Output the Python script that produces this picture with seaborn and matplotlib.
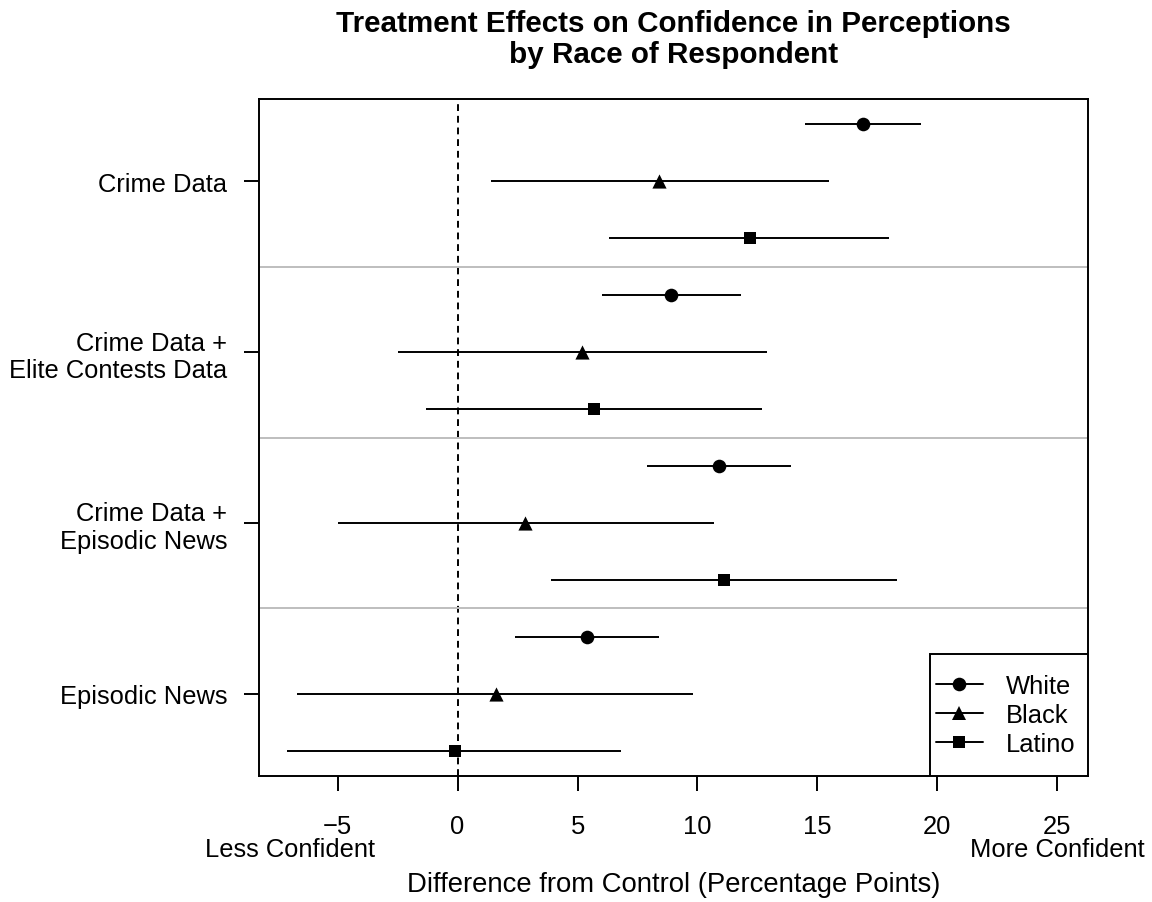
import numpy as np
import pandas as pd
import matplotlib
matplotlib.use("Agg")
import matplotlib.pyplot as plt
from matplotlib.lines import Line2D
from matplotlib.patches import Rectangle
from matplotlib.transforms import blended_transform_factory
import seaborn as sns

# Treatments (top to bottom) and respondent groups
treatments = ["Crime Data", "Crime Data +\nElite Contests Data",
              "Crime Data +\nEpisodic News", "Episodic News"]
races = ["White", "Black", "Latino"]

# Point estimates and 95% intervals, rows = treatments, cols = races
estimate = [[16.9, 8.4, 12.2],
            [8.9, 5.2, 5.7],
            [10.9, 2.8, 11.1],
            [5.4, 1.6, -0.1]]
lower = [[14.5, 1.4, 6.3],
         [6.0, -2.5, -1.3],
         [7.9, -5.0, 3.9],
         [2.4, -6.7, -7.1]]
upper = [[19.3, 15.5, 18.0],
         [11.8, 12.9, 12.7],
         [13.9, 10.7, 18.3],
         [8.4, 9.8, 6.8]]

x_ticks = [-5, 0, 5, 10, 15, 20, 25]
x_range = [-7, 25]

sns.set_theme(style="white", rc={
    "text.color": "black", "axes.labelcolor": "black",
    "xtick.color": "black", "ytick.color": "black",
    "axes.edgecolor": "black",
})
plt.rcParams["font.family"] = ["Liberation Sans", "DejaVu Sans"]
plt.rcParams["axes.unicode_minus"] = True

W, H = 1152, 903
FS = 18.4
n_t, n_r = len(treatments), len(races)
rows = []
for g, t in enumerate(treatments):
    for r, race in enumerate(races):
        rows.append({"treatment": t, "race": race,
                     "est": estimate[g][r], "lo": lower[g][r], "hi": upper[g][r],
                     "pos": n_t * n_r - (g * n_r + r)})
df = pd.DataFrame(rows)

fig = plt.figure(figsize=(W / 100, H / 100), dpi=100)
ax = fig.add_axes([259 / W, 1 - 777 / H, 829 / W, 677 / H])

LW = 1.4
# zero reference line
ax.axvline(0, color="black", lw=LW, ls=(0, (3.5, 2.5)), zorder=1)

# separators between treatment blocks
for g in range(1, n_t):
    ax.axhline(n_t * n_r - g * n_r + 0.5, color="#BEBEBE", lw=LW, zorder=1)

# confidence intervals
ax.hlines(df["pos"], df["lo"], df["hi"], color="black", lw=LW, zorder=2)

markers = {"White": "o", "Black": "^", "Latino": "s"}
msize = {"White": 9.8, "Black": 10.2, "Latino": 8.4}
for race in races:
    sub = df[df["race"] == race]
    sns.scatterplot(data=sub, x="est", y="pos", marker=markers[race],
                    s=msize[race] ** 2, color="black", edgecolor="black",
                    linewidth=0, ax=ax, zorder=3, legend=False)

span = x_range[1] - x_range[0]
ax.set_xlim(x_range[0] - 0.04 * span, x_range[1] + 0.04 * span)
ax.set_ylim(1 - 0.04 * (n_t * n_r - 1), n_t * n_r + 0.04 * (n_t * n_r - 1))
ax.set_xticks(x_ticks)
ax.set_xticklabels([str(v).replace("-", "\u2212") for v in x_ticks], fontsize=FS)
group_centres = [n_t * n_r - (g * n_r + 1) for g in range(n_t)]
ax.set_yticks(group_centres)
ax.set_yticklabels(treatments, fontsize=FS, linespacing=1.2)
ax.tick_params(axis="both", direction="out", length=10.8, width=LW,
               bottom=True, left=True)
ax.tick_params(axis="x", pad=16.5)
ax.tick_params(axis="y", pad=12)
for s in ax.spines.values():
    s.set_color("black")
    s.set_linewidth(LW)
ax.set_xlabel("")
ax.set_ylabel("")

# directional annotations under the axis ends
tr = blended_transform_factory(ax.transData, fig.transFigure)
ax.text(x_range[0], 1 - 857 / H, "Less Confident", transform=tr, ha="center",
        va="baseline", fontsize=FS)
ax.text(x_range[1], 1 - 857 / H, "More Confident", transform=tr, ha="center",
        va="baseline", fontsize=FS)

txt = blended_transform_factory(ax.transAxes, fig.transFigure)
ax.text(0.5, 1 - 892 / H, "Difference from Control (Percentage Points)",
        transform=txt, ha="center", va="baseline", fontsize=19.8)

title_lines = ["Treatment Effects on Confidence in Perceptions",
               "by Race of Respondent"]
for i, line in enumerate(title_lines):
    ax.text(0.5, 1 - (32 + 31 * i) / H, line, transform=txt, ha="center",
            va="baseline", fontsize=21.3, fontweight="bold")

# legend box in the lower-right corner of the panel
bx0, by1 = (930 - 259) / 829, (777 - 655) / 677
ax.add_patch(Rectangle((bx0, 0), 1 - bx0, by1, transform=ax.transAxes,
                       facecolor="white", edgecolor="black", lw=LW, zorder=5))
handles = [Line2D([0], [0], color="black", lw=LW, marker=markers[r],
                  markersize=msize[r], markeredgewidth=0) for r in races]
leg = ax.legend(handles, races, loc="center",
                bbox_to_anchor=((bx0 + 1) / 2 - 0.004, by1 / 2),
                frameon=False, fontsize=FS, handlelength=1.85,
                borderpad=0, labelspacing=0.18, handletextpad=0.9)
leg.set_zorder(6)

fig.savefig("out.png", dpi=100, facecolor="white")
